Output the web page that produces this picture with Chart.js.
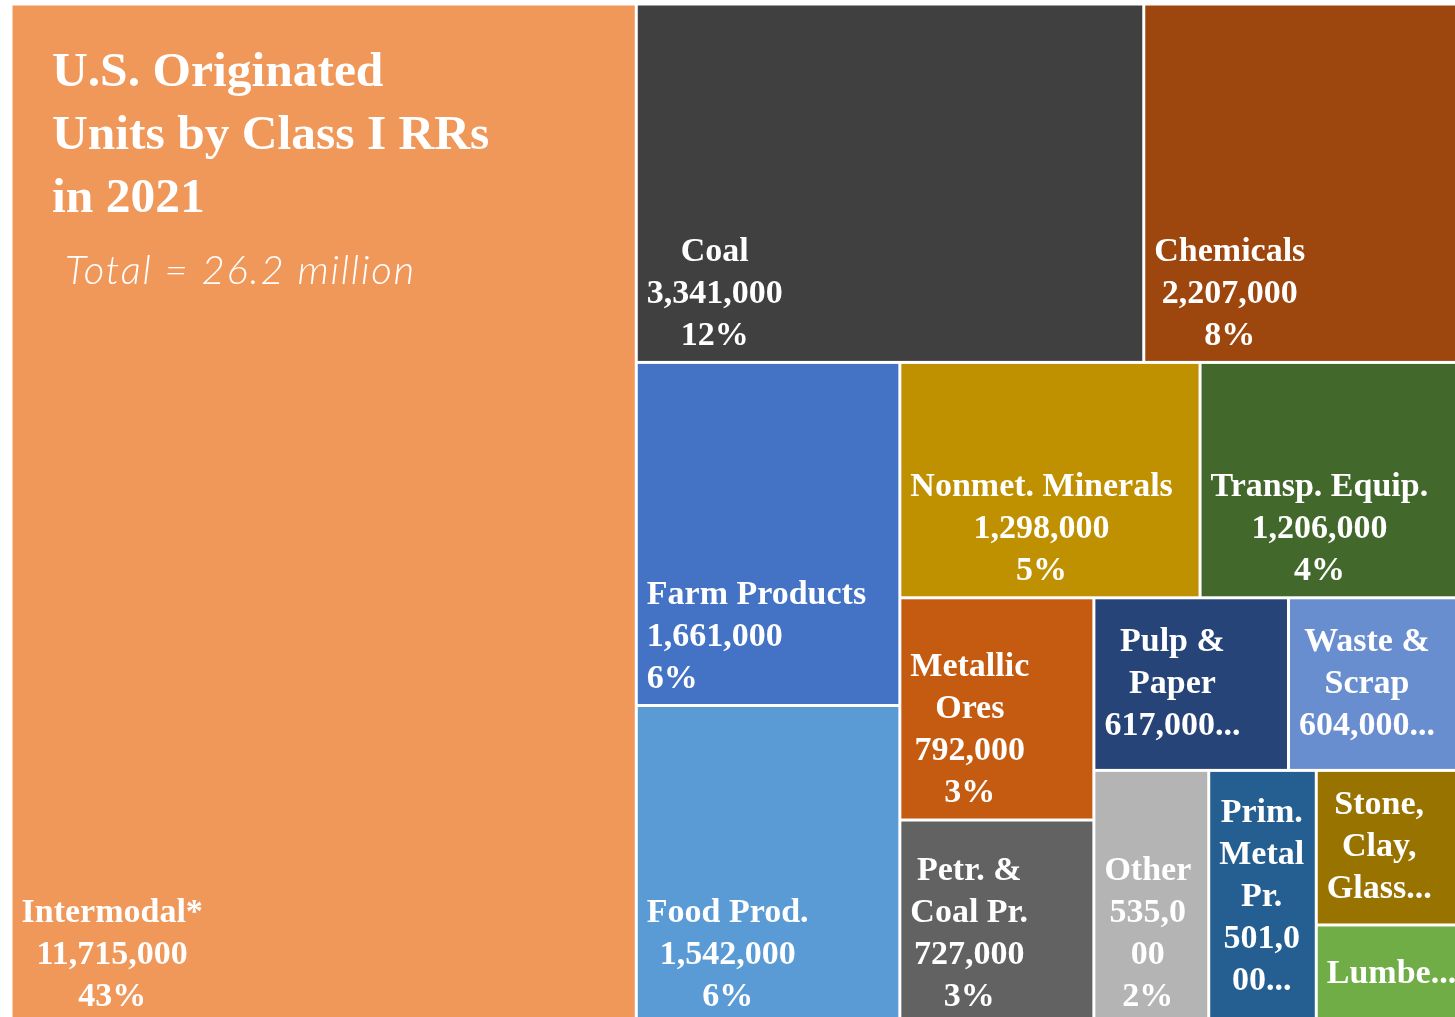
<!DOCTYPE html>
<html>
<head>
<meta charset="utf-8">
<script src="https://cdn.jsdelivr.net/npm/chart.js@4.4.1/dist/chart.umd.min.js"></script>
<style>
  html, body { margin: 0; padding: 0; background: #ffffff; overflow: hidden; width: 1455px; height: 1017px; }
  #wrap { position: absolute; left: 11px; top: 4px; width: 1468px; height: 1020px; }
  #title { position: absolute; left: 52px; top: 38px; color: #ffffff; font-family: 'Liberation Serif', 'DejaVu Serif', serif; font-weight: bold; font-size: 49.5px; line-height: 63px; white-space: nowrap; }
  #subtitle { position: absolute; left: 65px; top: 245px; color: #ffffff; font-family: Lato, 'Open Sans', sans-serif; font-style: italic; font-weight: 300; font-size: 40px; letter-spacing: 1.8px; white-space: nowrap; }
</style>
</head>
<body>
<div id="wrap"><canvas id="c" width="1468" height="1020"></canvas></div>
<div id="title">U.S. Originated<br>Units by Class I RRs<br>in 2021</div>
<div id="subtitle">Total = 26.2 million</div>
<script>
// ---- data ----
const categories = ["Intermodal*", "Coal", "Chemicals", "Farm Products", "Food Prod.",
  "Nonmet. Minerals", "Transp. Equip.", "Metallic Ores", "Petr. & Coal Pr.", "Pulp & Paper",
  "Waste & Scrap", "Other", "Prim. Metal Pr.", "Stone, Clay, Glass", "Lumber"];
const units = [11715000, 3341000, 2207000, 1661000, 1542000,
  1298000, 1206000, 792000, 727000, 617000,
  604000, 535000, 501000, 462000, 296000];

// ---- styles ----
const colors = ["#F0975A", "#404040", "#9D460E", "#4472C4", "#5B9BD5",
  "#BF9000", "#43682B", "#C55A11", "#626262", "#264478",
  "#698ED0", "#B4B4B4", "#255E91", "#997300", "#70AD47"];
const leftAligned = ["Farm Products"];
// number of tiles placed in each strip of the treemap (Excel-like squarified grouping)
const stripSizes = [1, 2, 2, 2, 2, 2, 1, 1, 1, 1];

const total = units.reduce((a, b) => a + b, 0);

function layoutTreemap(values, strips, aspect) {
  let x = 0, y = 0, w = 1, h = 1, idx = 0;
  let rem = values.reduce((a, b) => a + b, 0);
  const rects = [];
  for (const g of strips) {
    const items = values.slice(idx, idx + g);
    const gs = items.reduce((a, b) => a + b, 0);
    const frac = gs / rem;
    if (w * aspect >= h) {
      const cw = w * frac; let yy = y;
      items.forEach(v => { const hh = h * v / gs; rects.push({ x0: x, y0: yy, x1: x + cw, y1: yy + hh }); yy += hh; });
      x += cw; w -= cw;
    } else {
      const rh = h * frac; let xx = x;
      items.forEach(v => { const ww = w * v / gs; rects.push({ x0: xx, y0: y, x1: xx + ww, y1: y + rh }); xx += ww; });
      y += rh; h -= rh;
    }
    rem -= gs; idx += g;
  }
  return rects;
}

const FONT = "bold 34px 'Liberation Serif', 'DejaVu Serif', serif";
const LINE_H = 42;

function wrapText(ctx, text, maxW) {
  const words = text.split(' ');
  const lines = [];
  let cur = '';
  const breakWord = (word) => {
    let part = '';
    for (const ch of word) {
      if (ctx.measureText(part + ch).width > maxW && part) { lines.push(part); part = ch; }
      else part += ch;
    }
    return part;
  };
  for (const wd of words) {
    const test = cur ? cur + ' ' + wd : wd;
    if (ctx.measureText(test).width <= maxW) { cur = test; continue; }
    if (cur) lines.push(cur);
    cur = ctx.measureText(wd).width > maxW ? breakWord(wd) : wd;
  }
  if (cur) lines.push(cur);
  return lines;
}

const treemapPlugin = {
  id: 'treemapTiles',
  afterDatasetsDraw(chart) {
    const ctx = chart.ctx;
    const xs = chart.scales.x, ys = chart.scales.y;
    const area = chart.chartArea;
    const aspect = (area.right - area.left) / (area.bottom - area.top);
    const rects = layoutTreemap(units, stripSizes, aspect);
    const gap = 1.5;
    const boxes = rects.map(r => ({
      L: xs.getPixelForValue(r.x0) + gap, R: xs.getPixelForValue(r.x1) - gap,
      T: ys.getPixelForValue(r.y0) + gap, B: ys.getPixelForValue(r.y1) - gap
    }));
    ctx.save();
    boxes.forEach((b, i) => {
      ctx.fillStyle = colors[i];
      ctx.fillRect(b.L, b.T, b.R - b.L, b.B - b.T);
    });
    ctx.font = FONT;
    ctx.fillStyle = '#ffffff';
    ctx.textBaseline = 'middle';
    boxes.forEach((b, i) => {
      const padX = 9;
      const avail = (b.R - b.L) - 19;
      let lines = wrapText(ctx, categories[i], avail)
        .concat(wrapText(ctx, units[i].toLocaleString('en-US'), avail))
        .concat([Math.round(units[i] / total * 100) + '%']);
      const maxLines = Math.max(1, Math.floor(((b.B - b.T) - 24) / LINE_H));
      let centers;
      if (lines.length > maxLines) {
        lines = lines.slice(0, maxLines);
        let last = lines[maxLines - 1];
        while (last.length > 1 && ctx.measureText(last + '...').width > avail) last = last.slice(0, -1);
        lines[maxLines - 1] = last + '...';
        const mid = (b.T + b.B) / 2;
        const first = mid - (lines.length - 1) * LINE_H / 2;
        centers = lines.map((_, k) => first + k * LINE_H);
      } else {
        const lastY = b.B - 25;
        centers = lines.map((_, k) => lastY - (lines.length - 1 - k) * LINE_H);
      }
      const blockW = Math.max(...lines.map(s => ctx.measureText(s).width));
      const left = b.L + padX;
      ctx.save();
      ctx.beginPath();
      ctx.rect(b.L, b.T, b.R - b.L, b.B - b.T);
      ctx.clip();
      lines.forEach((s, k) => {
        if (leftAligned.includes(categories[i])) {
          ctx.textAlign = 'left';
          ctx.fillText(s, left, centers[k]);
        } else {
          ctx.textAlign = 'center';
          ctx.fillText(s, left + blockW / 2, centers[k]);
        }
      });
      ctx.restore();
    });
    ctx.restore();
  }
};

new Chart(document.getElementById('c'), {
  type: 'scatter',
  data: { datasets: [{ label: 'Originated units', data: [] }] },
  options: {
    responsive: false,
    animation: false,
    layout: { padding: 0 },
    plugins: { legend: { display: false }, tooltip: { enabled: false }, title: { display: false } },
    scales: {
      x: { type: 'linear', min: 0, max: 1, display: false },
      y: { type: 'linear', min: 0, max: 1, reverse: true, display: false }
    }
  },
  plugins: [treemapPlugin]
});
</script>
</body>
</html>
